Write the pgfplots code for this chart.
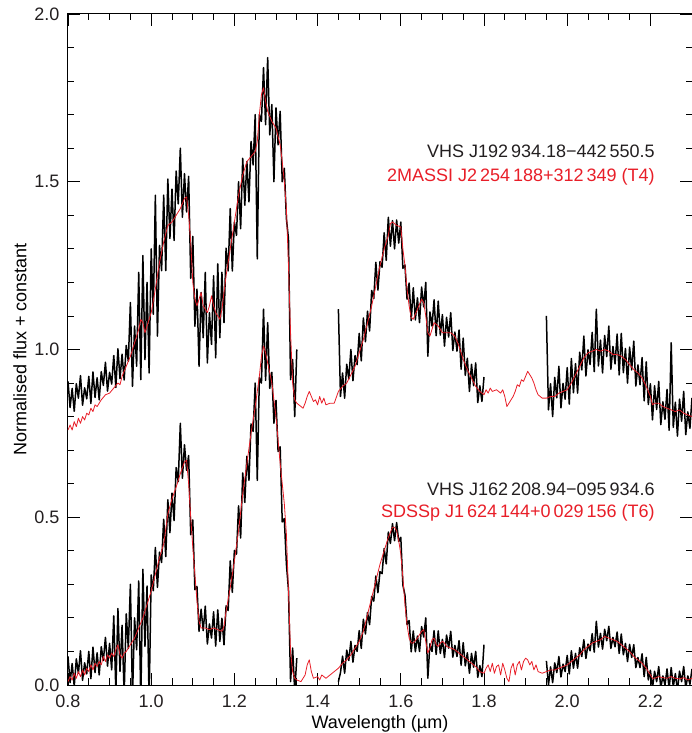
\documentclass[border=0pt]{standalone}
\usepackage{fontspec}
\setmainfont{Liberation Sans}
\usepackage{pgfplots}
\pgfplotsset{compat=1.18}
\definecolor{txt}{RGB}{35,31,32}
\definecolor{specred}{RGB}{232,30,40}
\begin{document}
\fontsize{18}{21.6}\selectfont
\begin{tikzpicture}[font=\fontsize{18}{21.6}\selectfont]
\begin{axis}[
  scale only axis, width=624pt, height=671pt,
  xmin=0.8, xmax=2.3, ymin=0, ymax=2.0,
  xtick={0.8,1.0,1.2,1.4,1.6,1.8,2.0,2.2},
  ytick={0,0.5,1.0,1.5,2.0},
  minor x tick num=3, minor y tick num=4,
  major tick length=12pt, minor tick length=6.5pt,
  tick style={black, line width=0.8pt},
  axis line style={black, line width=1pt},
  scaled ticks=false,
  /pgf/number format/assume math mode=true,
  /pgf/number format/fixed,
  /pgf/number format/fixed zerofill,
  /pgf/number format/precision=1,
  tick label style={font=\fontsize{18}{21.6}\selectfont, text=txt},
  xticklabel style={anchor=base, yshift=-22pt},
  yticklabel style={anchor=east, xshift=-2.5pt},
  label style={font=\fontsize{18}{21.6}\selectfont, text=txt},
  every axis x label/.style={at={(axis description cs:0.5,-0.0641)}, anchor=base},
  every axis y label/.style={at={(axis description cs:-0.0769,0.5)}, rotate=90, anchor=center},
  xlabel={Wavelength (µm)},
  ylabel={Normalised flux + constant},
  spec/.style={black, line width=1.5pt, line join=round},
  tmpl/.style={specred, line width=0.8pt, line join=round},
]
\coordinate (SW) at (rel axis cs:0,0);
\coordinate (NE) at (rel axis cs:1,1);
% ---------------- upper object: VHS J1929 (black) ----------------
\addplot[spec] coordinates {
(0.800,0.905)(0.805,0.827)(0.810,0.884)(0.815,0.816)(0.820,0.898)(0.825,0.855)(0.830,0.922)(0.835,0.834)
(0.840,0.886)(0.845,0.853)(0.850,0.920)(0.855,0.839)(0.860,0.933)(0.865,0.857)(0.870,0.916)(0.875,0.850)
(0.880,0.934)(0.885,0.893)(0.890,0.962)(0.895,0.876)(0.900,0.932)(0.905,0.897)(0.910,0.982)(0.915,0.887)
(0.920,1.002)(0.925,0.913)(0.930,0.986)(0.935,0.909)(0.940,1.012)(0.945,0.965)(0.950,1.140)(0.955,0.890)
(0.960,1.070)(0.965,0.950)(0.970,1.230)(0.975,0.910)(0.980,1.280)(0.985,0.970)(0.990,1.200)(0.995,0.930)
(1.000,1.300)(1.005,1.105)(1.010,1.460)(1.015,1.040)(1.020,1.310)(1.025,1.235)(1.030,1.460)(1.035,1.235)
(1.040,1.508)(1.045,1.331)(1.050,1.478)(1.055,1.325)(1.060,1.532)(1.065,1.434)(1.070,1.600)(1.075,1.394)
(1.080,1.524)(1.085,1.410)(1.090,1.516)(1.095,1.212)(1.100,1.337)(1.105,1.069)(1.110,1.180)(1.115,0.950)
(1.120,1.170)(1.125,1.035)(1.130,1.230)(1.135,0.960)(1.140,1.110)(1.145,1.015)(1.150,1.220)(1.155,0.975)
(1.160,1.255)(1.165,1.035)(1.170,1.230)(1.175,1.080)(1.180,1.302)(1.185,1.234)(1.190,1.420)(1.195,1.234)
(1.200,1.380)(1.205,1.340)(1.210,1.500)(1.215,1.360)(1.220,1.570)(1.225,1.430)(1.230,1.560)(1.235,1.440)
(1.240,1.620)(1.245,1.550)(1.250,1.700)(1.255,1.270)(1.260,1.700)(1.265,1.680)(1.270,1.840)(1.275,1.670)
(1.280,1.870)(1.285,1.640)(1.290,1.730)(1.295,1.500)(1.300,1.720)(1.305,1.610)(1.310,1.710)(1.315,1.500)
(1.320,1.540)(1.325,1.390)(1.330,1.330)(1.335,0.910)(1.340,0.970)(1.345,0.800)(1.350,1.000)
};
\addplot[spec] coordinates {
(1.450,1.120)(1.455,0.860)(1.460,0.930)(1.465,0.855)(1.470,0.956)(1.475,0.912)(1.480,1.000)(1.485,0.907)
(1.490,0.982)(1.495,0.955)(1.500,1.048)(1.505,0.966)(1.510,1.094)(1.515,1.023)(1.520,1.114)(1.525,1.055)
(1.530,1.176)(1.535,1.152)(1.540,1.260)(1.545,1.177)(1.550,1.262)(1.555,1.245)(1.560,1.348)(1.565,1.266)
(1.570,1.394)(1.575,1.308)(1.580,1.384)(1.585,1.300)(1.590,1.386)(1.595,1.317)(1.600,1.380)(1.605,1.242)
(1.610,1.252)(1.615,1.150)(1.620,1.198)(1.625,1.086)(1.630,1.184)(1.635,1.088)(1.640,1.154)(1.645,1.080)
(1.650,1.186)(1.655,1.127)(1.660,1.200)(1.665,0.980)(1.670,1.112)(1.675,1.070)(1.680,1.148)(1.685,1.041)
(1.690,1.144)(1.695,1.043)(1.700,1.104)(1.705,1.010)(1.710,1.096)(1.715,1.037)(1.720,1.110)(1.725,0.997)
(1.730,1.052)(1.735,0.995)(1.740,1.058)(1.745,0.941)(1.750,1.034)(1.755,0.923)(1.760,0.974)(1.765,0.875)
(1.770,0.956)(1.775,0.892)(1.780,0.960)(1.785,0.842)(1.790,0.892)(1.795,0.845)(1.800,0.918)
};
\addplot[spec] coordinates {
(1.950,1.100)(1.955,0.820)(1.960,0.898)(1.965,0.800)(1.970,0.917)(1.975,0.856)(1.980,0.950)(1.985,0.826)
(1.990,0.899)(1.995,0.852)(2.000,0.946)(2.005,0.837)(2.010,0.973)(2.015,0.871)(2.020,0.958)(2.025,0.870)
(2.030,0.992)(2.035,0.939)(2.040,1.040)(2.045,0.921)(2.050,0.999)(2.055,0.955)(2.060,1.051)(2.065,0.934)
(2.070,1.120)(2.075,0.951)(2.080,1.028)(2.085,0.930)(2.090,1.042)(2.095,0.979)(2.100,1.070)(2.105,0.941)
(2.110,1.009)(2.115,0.957)(2.120,1.046)(2.125,0.924)(2.130,1.048)(2.135,0.931)(2.140,1.003)(2.145,0.900)
(2.150,1.007)(2.155,0.939)(2.160,1.025)(2.165,0.891)(2.170,0.954)(2.175,0.895)(2.180,0.976)(2.185,0.847)
(2.190,0.963)(2.195,0.836)(2.200,0.898)(2.205,0.790)(2.210,0.892)(2.215,0.821)(2.220,0.905)(2.225,0.776)
(2.230,0.844)(2.235,0.792)(2.240,0.881)(2.245,0.759)(2.250,1.020)(2.255,0.768)(2.260,0.843)(2.265,0.742)
(2.270,0.852)(2.275,0.786)(2.280,0.875)(2.285,0.746)(2.290,0.814)(2.295,0.765)(2.300,0.856)
};
% ---------------- upper template: 2MASSI J2254 (red) ----------------
\addplot[tmpl] coordinates {
(0.800,0.760)(0.805,0.775)(0.810,0.760)(0.815,0.785)(0.820,0.770)(0.825,0.795)(0.830,0.780)(0.835,0.800)
(0.840,0.790)(0.845,0.810)(0.850,0.805)(0.855,0.825)(0.860,0.815)(0.865,0.835)(0.870,0.830)(0.880,0.850)
(0.890,0.865)(0.900,0.870)(0.910,0.885)(0.920,0.900)(0.925,0.895)(0.930,0.920)(0.940,0.950)(0.950,0.980)
(0.960,1.020)(0.970,1.060)(0.975,1.090)(0.980,1.080)(0.985,1.050)(0.990,1.070)(1.000,1.110)(1.010,1.180)
(1.020,1.260)(1.030,1.320)(1.040,1.370)(1.050,1.380)(1.060,1.400)(1.070,1.420)(1.080,1.450)(1.085,1.455)
(1.090,1.400)(1.095,1.320)(1.100,1.200)(1.105,1.150)(1.110,1.130)(1.115,1.150)(1.120,1.170)(1.125,1.130)
(1.130,1.120)(1.135,1.110)(1.140,1.130)(1.145,1.160)(1.150,1.130)(1.155,1.110)(1.160,1.100)(1.165,1.090)
(1.170,1.120)(1.180,1.220)(1.190,1.300)(1.200,1.380)(1.210,1.460)(1.220,1.520)(1.230,1.560)(1.240,1.575)
(1.250,1.590)(1.255,1.620)(1.260,1.700)(1.265,1.760)(1.270,1.780)(1.275,1.740)(1.280,1.710)(1.290,1.680)
(1.300,1.660)(1.310,1.610)(1.315,1.560)(1.320,1.500)(1.325,1.420)(1.330,1.250)(1.335,1.050)(1.340,0.900)
(1.345,0.850)(1.350,0.840)(1.360,0.830)(1.365,0.825)(1.370,0.840)(1.375,0.860)(1.380,0.875)(1.385,0.860)
(1.390,0.845)(1.395,0.850)(1.400,0.835)(1.405,0.860)(1.410,0.840)(1.415,0.855)(1.420,0.835)(1.430,0.840)
(1.440,0.840)(1.450,0.875)(1.460,0.890)(1.470,0.900)(1.480,0.925)(1.490,0.950)(1.500,0.990)(1.510,1.030)
(1.520,1.080)(1.530,1.130)(1.540,1.190)(1.550,1.250)(1.560,1.300)(1.570,1.340)(1.575,1.375)(1.580,1.380)
(1.590,1.370)(1.600,1.365)(1.605,1.300)(1.610,1.250)(1.615,1.180)(1.620,1.130)(1.625,1.095)(1.630,1.090)
(1.640,1.120)(1.650,1.150)(1.655,1.140)(1.660,1.100)(1.665,1.050)(1.670,1.040)(1.675,1.060)(1.680,1.080)
(1.690,1.070)(1.700,1.050)(1.710,1.050)(1.720,1.050)(1.730,1.040)(1.740,1.010)(1.750,0.970)(1.760,0.940)
(1.770,0.915)(1.780,0.890)(1.790,0.875)(1.800,0.865)(1.805,0.880)(1.810,0.870)(1.815,0.885)(1.820,0.875)
(1.830,0.880)(1.840,0.870)(1.845,0.880)(1.850,0.860)(1.855,0.830)(1.860,0.840)(1.865,0.850)(1.870,0.860)
(1.875,0.875)(1.880,0.895)(1.885,0.890)(1.890,0.910)(1.895,0.905)(1.900,0.920)(1.905,0.935)(1.910,0.925)
(1.915,0.915)(1.920,0.900)(1.925,0.880)(1.930,0.865)(1.940,0.855)(1.950,0.855)(1.960,0.860)(1.970,0.860)
(1.980,0.870)(1.990,0.875)(2.000,0.880)(2.010,0.900)(2.020,0.925)(2.030,0.950)(2.040,0.975)(2.050,0.990)
(2.060,0.995)(2.070,1.000)(2.080,0.995)(2.090,1.000)(2.100,0.995)(2.110,0.985)(2.120,0.985)(2.130,0.980)
(2.140,0.970)(2.150,0.955)(2.160,0.940)(2.170,0.930)(2.180,0.915)(2.190,0.890)(2.200,0.860)(2.205,0.835)
(2.210,0.840)(2.220,0.840)(2.230,0.830)(2.240,0.825)(2.250,0.820)(2.260,0.815)(2.270,0.820)(2.280,0.810)
(2.290,0.805)(2.300,0.800)
};
% ---------------- lower object: VHS J1622 (black) ----------------
\addplot[spec] coordinates {
(0.800,0.085)(0.805,0.007)(0.810,0.064)(0.815,-0.004)(0.820,0.078)(0.825,0.035)(0.830,0.102)(0.835,0.014)
(0.840,0.066)(0.845,0.033)(0.850,0.100)(0.855,0.019)(0.860,0.113)(0.865,0.037)(0.870,0.096)(0.875,0.030)
(0.880,0.114)(0.885,0.073)(0.890,0.142)(0.895,0.056)(0.900,0.124)(0.905,0.045)(0.910,0.206)(0.915,-0.020)
(0.920,0.228)(0.925,0.041)(0.930,0.178)(0.935,-0.030)(0.940,0.212)(0.945,0.109)(0.950,0.300)(0.955,-0.040)
(0.960,0.200)(0.965,0.105)(0.970,0.310)(0.975,-0.050)(0.980,0.345)(0.985,0.115)(0.990,0.295)(0.995,-0.050)
(1.000,0.328)(1.005,0.281)(1.010,0.410)(1.015,0.291)(1.020,0.396)(1.025,0.365)(1.030,0.494)(1.035,0.383)
(1.040,0.552)(1.045,0.454)(1.050,0.572)(1.055,0.490)(1.060,0.648)(1.065,0.606)(1.070,0.780)(1.075,0.616)
(1.080,0.716)(1.085,0.640)(1.090,0.684)(1.095,0.448)(1.100,0.492)(1.105,0.284)(1.110,0.294)(1.115,0.160)
(1.120,0.226)(1.125,0.162)(1.130,0.235)(1.135,0.122)(1.140,0.182)(1.145,0.140)(1.150,0.218)(1.155,0.116)
(1.160,0.224)(1.165,0.130)(1.170,0.199)(1.175,0.120)(1.180,0.236)(1.185,0.222)(1.190,0.370)(1.195,0.276)
(1.200,0.401)(1.205,0.390)(1.210,0.534)(1.215,0.438)(1.220,0.632)(1.225,0.544)(1.230,0.682)(1.235,0.610)
(1.240,0.778)(1.245,0.756)(1.250,0.900)(1.255,0.610)(1.260,0.916)(1.265,0.900)(1.270,1.120)(1.275,0.908)
(1.280,1.080)(1.285,0.884)(1.290,0.932)(1.295,0.780)(1.300,0.848)(1.305,0.696)(1.310,0.710)(1.315,0.486)
(1.320,0.496)(1.325,0.360)(1.330,0.284)(1.335,0.010)(1.340,0.110)(1.345,-0.020)(1.350,0.080)
};
\addplot[spec] coordinates {
(1.450,0.010)(1.455,0.037)(1.460,0.086)(1.465,0.035)(1.470,0.104)(1.475,0.073)(1.480,0.130)(1.485,0.068)
(1.490,0.118)(1.495,0.100)(1.500,0.162)(1.505,0.109)(1.510,0.196)(1.515,0.152)(1.520,0.216)(1.525,0.180)
(1.530,0.264)(1.535,0.250)(1.540,0.325)(1.545,0.275)(1.550,0.338)(1.555,0.332)(1.560,0.407)(1.565,0.361)
(1.570,0.456)(1.575,0.422)(1.580,0.481)(1.585,0.430)(1.590,0.484)(1.595,0.428)(1.600,0.440)(1.605,0.298)
(1.610,0.268)(1.615,0.180)(1.620,0.192)(1.625,0.099)(1.630,0.161)(1.635,0.099)(1.640,0.146)(1.645,0.100)
(1.650,0.174)(1.655,0.143)(1.660,0.200)(1.665,0.020)(1.670,0.123)(1.675,0.100)(1.680,0.162)(1.685,0.091)
(1.690,0.161)(1.695,0.094)(1.700,0.136)(1.705,0.082)(1.710,0.149)(1.715,0.110)(1.720,0.160)(1.725,0.083)
(1.730,0.118)(1.735,0.085)(1.740,0.132)(1.745,0.059)(1.750,0.126)(1.755,0.057)(1.760,0.096)(1.765,0.035)
(1.770,0.094)(1.775,0.053)(1.780,0.100)(1.785,0.023)(1.790,0.058)(1.795,0.025)(1.800,0.120)
};
\addplot[spec] coordinates {
(1.950,0.072)(1.955,0.000)(1.960,0.054)(1.965,0.007)(1.970,0.066)(1.975,0.037)(1.980,0.085)(1.985,0.024)
(1.990,0.062)(1.995,0.040)(2.000,0.088)(2.005,0.033)(2.010,0.102)(2.015,0.050)(2.020,0.094)(2.025,0.050)
(2.030,0.111)(2.035,0.085)(2.040,0.135)(2.045,0.079)(2.050,0.122)(2.055,0.102)(2.060,0.153)(2.065,0.098)
(2.070,0.190)(2.075,0.113)(2.080,0.154)(2.085,0.107)(2.090,0.166)(2.095,0.132)(2.100,0.175)(2.105,0.109)
(2.110,0.142)(2.115,0.114)(2.120,0.158)(2.125,0.094)(2.130,0.152)(2.135,0.090)(2.140,0.124)(2.145,0.070)
(2.150,0.121)(2.155,0.082)(2.160,0.120)(2.165,0.052)(2.170,0.082)(2.175,0.052)(2.180,0.093)(2.185,0.025)
(2.190,0.082)(2.195,0.015)(2.200,0.044)(2.205,-0.010)(2.210,0.041)(2.215,0.010)(2.220,0.055)(2.225,-0.008)
(2.230,0.027)(2.235,0.000)(2.240,0.048)(2.245,-0.010)(2.250,0.052)(2.255,-0.005)(2.260,0.034)(2.265,-0.015)
(2.270,0.041)(2.275,0.010)(2.280,0.055)(2.285,-0.008)(2.290,0.027)(2.295,0.002)(2.300,0.048)
};
% ---------------- lower template: SDSSp J1624 (red) ----------------
\addplot[tmpl] coordinates {
(0.800,0.010)(0.805,0.025)(0.810,0.015)(0.815,0.035)(0.820,0.020)(0.825,0.040)(0.830,0.025)(0.835,0.045)
(0.840,0.030)(0.845,0.050)(0.850,0.040)(0.855,0.060)(0.860,0.045)(0.865,0.065)(0.870,0.055)(0.875,0.070)
(0.880,0.060)(0.885,0.085)(0.890,0.070)(0.895,0.090)(0.900,0.080)(0.905,0.095)(0.910,0.085)(0.915,0.105)
(0.920,0.120)(0.925,0.090)(0.930,0.080)(0.935,0.095)(0.940,0.100)(0.950,0.120)(0.960,0.140)(0.970,0.170)
(0.980,0.200)(0.990,0.240)(1.000,0.280)(1.010,0.330)(1.020,0.380)(1.030,0.420)(1.040,0.510)(1.050,0.555)
(1.060,0.590)(1.070,0.630)(1.080,0.665)(1.085,0.670)(1.090,0.600)(1.095,0.500)(1.100,0.410)(1.105,0.330)
(1.110,0.250)(1.115,0.190)(1.120,0.170)(1.130,0.170)(1.140,0.165)(1.150,0.170)(1.160,0.165)(1.170,0.160)
(1.175,0.175)(1.180,0.220)(1.190,0.290)(1.200,0.370)(1.210,0.460)(1.220,0.570)(1.230,0.660)(1.240,0.750)
(1.250,0.830)(1.260,0.920)(1.265,0.980)(1.270,1.010)(1.275,0.990)(1.280,0.960)(1.290,0.900)(1.300,0.800)
(1.310,0.660)(1.320,0.540)(1.325,0.450)(1.330,0.280)(1.335,0.100)(1.340,0.040)(1.345,0.020)(1.350,0.015)
(1.360,0.010)(1.370,0.030)(1.375,0.060)(1.380,0.075)(1.385,0.040)(1.390,0.020)(1.400,0.025)(1.405,0.015)
(1.410,0.030)(1.420,0.020)(1.430,0.030)(1.440,0.040)(1.450,0.050)(1.460,0.065)(1.470,0.075)(1.480,0.090)
(1.490,0.110)(1.500,0.130)(1.510,0.160)(1.520,0.210)(1.530,0.260)(1.540,0.310)(1.550,0.360)(1.560,0.400)
(1.570,0.440)(1.580,0.470)(1.585,0.470)(1.590,0.460)(1.595,0.430)(1.600,0.390)(1.605,0.320)(1.610,0.240)
(1.615,0.180)(1.620,0.140)(1.625,0.125)(1.630,0.125)(1.640,0.140)(1.650,0.160)(1.655,0.165)(1.660,0.130)
(1.665,0.095)(1.670,0.110)(1.675,0.135)(1.680,0.140)(1.685,0.120)(1.690,0.115)(1.695,0.125)(1.700,0.130)
(1.705,0.125)(1.710,0.115)(1.720,0.110)(1.730,0.105)(1.740,0.095)(1.750,0.085)(1.760,0.075)(1.770,0.065)
(1.780,0.055)(1.790,0.040)(1.800,0.035)(1.805,0.050)(1.810,0.060)(1.815,0.040)(1.820,0.065)(1.825,0.035)
(1.830,0.055)(1.835,0.060)(1.840,0.030)(1.845,0.065)(1.850,0.045)(1.855,0.020)(1.860,0.010)(1.865,0.050)
(1.870,0.065)(1.875,0.030)(1.880,0.060)(1.885,0.070)(1.890,0.045)(1.895,0.070)(1.900,0.080)(1.905,0.075)
(1.910,0.060)(1.915,0.070)(1.920,0.045)(1.925,0.060)(1.930,0.040)(1.940,0.035)(1.950,0.040)(1.960,0.045)
(1.970,0.045)(1.980,0.050)(1.990,0.055)(2.000,0.060)(2.010,0.070)(2.020,0.080)(2.030,0.090)(2.040,0.105)
(2.050,0.115)(2.060,0.125)(2.070,0.130)(2.080,0.135)(2.090,0.145)(2.100,0.140)(2.110,0.135)(2.120,0.130)
(2.130,0.120)(2.140,0.110)(2.150,0.100)(2.160,0.085)(2.170,0.075)(2.180,0.065)(2.190,0.050)(2.200,0.030)
(2.205,0.020)(2.210,0.020)(2.220,0.025)(2.230,0.022)(2.240,0.020)(2.250,0.025)(2.260,0.020)(2.270,0.018)
(2.280,0.022)(2.290,0.015)(2.300,0.020)
};
% ---------------- labels ----------------
\node[anchor=base east, text=txt, inner sep=0pt] at (axis cs:2.211,1.571) {VHS J192\,934.18−442\,550.5};
\node[anchor=base east, text=specred, inner sep=0pt] at (axis cs:2.211,1.502) {2MASSI J2\,254\,188+312\,349 (T4)};
\node[anchor=base east, text=txt, inner sep=0pt] at (axis cs:2.211,0.566) {VHS J162\,208.94−095\,934.6};
\node[anchor=base east, text=specred, inner sep=0pt] at (axis cs:2.211,0.500) {SDSSp J1\,624\,144+0\,029\,156 (T6)};
\end{axis}
\pgfresetboundingbox
\path[use as bounding box] ([xshift=-68pt,yshift=-48pt]SW) rectangle ([yshift=14pt]NE);
\end{tikzpicture}
\end{document}
